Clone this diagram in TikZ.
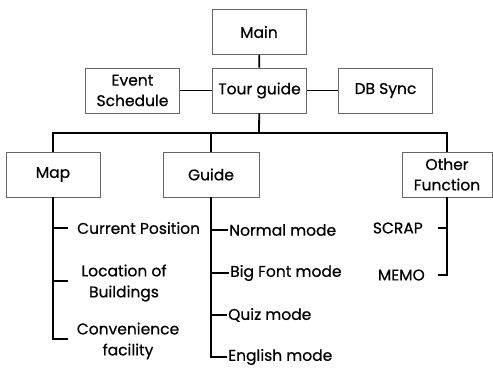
\documentclass[tikz,border=0pt]{standalone}
\usepackage{fontspec}
\setmainfont{Poppins}[FakeBold=0.6]
\usepackage{tikz}
\tikzset{
    box/.style={draw=black!60, line width=0.9pt, minimum width=94pt, minimum height=45pt, align=center, font=\fontsize{15.5}{20.5}\selectfont, inner sep=1pt},
    item/.style={font=\fontsize{15.5}{21}\selectfont, align=center, inner sep=1pt},
    link/.style={line width=1.8pt}
}

\begin{document}
\begin{tikzpicture}[x=1pt, y=-1pt]
        \useasboundingbox (0,0) rectangle (493,368);
        \node[box] (main) at (259,32) {Main};
        \node[box] (tour) at (259.5,90.5) {Tour guide};
        \node[box] (event) at (132.5,90.5) {Event\\Schedule};
        \node[box] (dbsync) at (385.5,90.5) {DB Sync};
        \node[box] (map) at (53,174.5) {Map};
        \node[box, minimum width=96pt] (guide) at (211,174.5) {Guide};
        \node[box, minimum width=90pt] (other) at (447,174.5) {Other\\Function};
        \coordinate (bus) at (259,133);
        \draw[link] (main) -- (tour);
        \draw[link] (event) -- (tour);
        \draw[link] (tour) -- (dbsync);
        \draw[link] (tour) -- (bus);
        \draw[link] (map.north) |- (bus) -| (other.north);
        \draw[link] (guide.north) -- (guide.north |- bus);
        % map items
        \node[item, anchor=west] (curpos) at (76,228) {Current Position};
        \node[item] (location) at (124,283) {Location of\\Buildings};
        \node[item] (conv) at (128,341) {Convenience\\facility};
        \coordinate (m1) at (68,228);
        \coordinate (m2) at (68,281);
        \coordinate (m3) at (68,339);
        \draw[link] (map.south) |- (m3);
        \draw[link] (m1) -- (map.south |- m1);
        \draw[link] (m2) -- (map.south |- m2);
        % guide items
        \node[item, anchor=west] (normal) at (228,230) {Normal mode};
        \node[item, anchor=west] (bigfont) at (229,273) {Big Font mode};
        \node[item, anchor=west] (quiz) at (227,315) {Quiz mode};
        \node[item, anchor=west] (english) at (227,357) {English mode};
        \draw[link] (guide.south) |- (english.west);
        \draw[link] (normal.west) -- (guide.south |- normal.west);
        \draw[link] (bigfont.west) -- (guide.south |- bigfont.west);
        \draw[link] (quiz.west) -- (guide.south |- quiz.west);
        % other items
        \node[item, anchor=east] (scrap) at (424,228) {SCRAP};
        \node[item, anchor=east] (memo) at (426,275) {MEMO};
        \coordinate (o1) at (438,228);
        \coordinate (o2) at (438,275);
        \draw[link] (other.south) |- (o2);
        \draw[link] (o1) -- (other.south |- o1);
    \end{tikzpicture}
\end{document}
